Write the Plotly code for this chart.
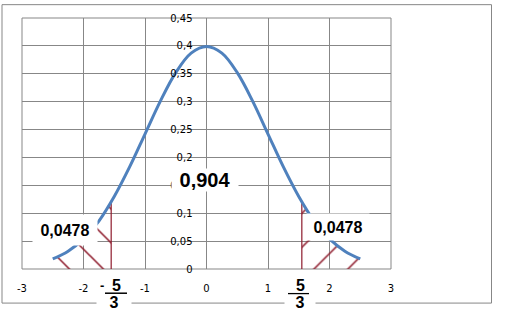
import plotly.graph_objects as go

# ---- data ----
x_vals = [-2.5, -2.25, -2.0, -1.75, -1.5, -1.25, -1.0, -0.75, -0.5, -0.25, 0.0,
          0.25, 0.5, 0.75, 1.0, 1.25, 1.5, 1.75, 2.0, 2.25, 2.5]
y_vals = [0.018, 0.032, 0.054, 0.086, 0.130, 0.183, 0.242, 0.301, 0.352, 0.387, 0.399,
          0.387, 0.352, 0.301, 0.242, 0.183, 0.130, 0.086, 0.054, 0.032, 0.018]

left_tail_x = [-2.5, -2.25, -2.0, -1.75, -1.55]
left_tail_y = [0.018, 0.032, 0.054, 0.086, 0.120]
right_tail_x = [1.55, 1.75, 2.0, 2.25, 2.5]
right_tail_y = [0.120, 0.086, 0.054, 0.032, 0.018]

x_ticks = [-3, -2, -1, 0, 1, 2, 3]
x_ticktext = ["-3", "-2", "-1", "0", "1", "2", "3"]
y_ticks = [0, 0.05, 0.1, 0.15, 0.2, 0.25, 0.3, 0.35, 0.4, 0.45]
y_ticktext = ["0", "0,05", "0,1", "0,15", "0,2", "0,25", "0,3", "0,35", "0,4", "0,45"]

center_label = "0,904"
tail_label = "0,0478"
crit_num = "5"
crit_den = "3"

# ---- layout geometry ----
W, H = 505, 318
ML, MR, MT, MB = 22, 114, 15, 49
PW, PH = W - ML - MR, H - MT - MB


def pxx(px):
    return (px - ML) / PW


def pxy(py):
    return (H - MB - py) / PH


GRID = "#878787"
RED = "#8e1b2c"
BLUE = "#4f81bd"

fig = go.Figure()

for tx, ty, shp in [(left_tail_x, left_tail_y, "\\"), (right_tail_x, right_tail_y, "/")]:
    fig.add_trace(go.Scatter(
        x=tx, y=ty, mode="lines", fill="tozeroy",
        line=dict(width=0, shape="spline"),
        fillcolor=RED,
        fillpattern=dict(shape=shp, fgcolor=RED, bgcolor="rgba(255,255,255,0)",
                         fgopacity=1, fillmode="replace",
                         size=24, solidity=0.065),
        hoverinfo="skip", showlegend=False))

for tx, ty in [(left_tail_x[-1], left_tail_y[-1]), (right_tail_x[0], right_tail_y[0])]:
    fig.add_trace(go.Scatter(x=[tx, tx], y=[0, ty], mode="lines",
                             line=dict(color=RED, width=1.2),
                             hoverinfo="skip", showlegend=False))

fig.add_trace(go.Scatter(x=x_vals, y=y_vals, mode="lines",
                         line=dict(color=BLUE, width=3, shape="spline"),
                         showlegend=False))

fig.update_layout(
    width=W, height=H,
    margin=dict(l=ML, r=MR, t=MT, b=MB, pad=0),
    paper_bgcolor="white", plot_bgcolor="white",
    showlegend=False,
    font=dict(family="DejaVu Sans", size=10, color="black"),
    xaxis=dict(range=[-3, 3], tickvals=x_ticks, ticktext=x_ticktext,
               showgrid=True, gridcolor=GRID, gridwidth=1, zeroline=False,
               showline=False, ticks="", ticklabelstandoff=12,
               tickfont=dict(family="DejaVu Sans", size=10, color="black")),
    yaxis=dict(range=[0, 0.45], tickvals=y_ticks, ticktext=y_ticktext,
               showgrid=True, gridcolor=GRID, gridwidth=1, zeroline=False,
               showline=False, ticks="", anchor="free", position=0.5,
               ticklabelstandoff=14,
               tickfont=dict(family="DejaVu Sans", size=10, color="black")),
)

shapes = [
    # plot frame
    dict(type="rect", xref="paper", yref="paper", x0=0, x1=1, y0=0, y1=1,
         line=dict(color=GRID, width=1), layer="below"),
    # outer chart border
    dict(type="rect", xref="paper", yref="paper",
         x0=pxx(2), x1=pxx(491.5), y0=pxy(303.5), y1=pxy(1.5),
         line=dict(color=GRID, width=1)),
    # fraction bars
    dict(type="line", xref="paper", yref="paper",
         x0=pxx(105), x1=pxx(127), y0=pxy(293.5), y1=pxy(293.5),
         line=dict(color="black", width=1.5)),
    dict(type="line", xref="paper", yref="paper",
         x0=pxx(288), x1=pxx(309), y0=pxy(294), y1=pxy(294),
         line=dict(color="black", width=1.5)),
]
fig.update_layout(shapes=shapes)

bold = dict(family="Liberation Sans", color="black")
C = dict(showarrow=False, xanchor="center", yanchor="middle")
ann = [
    dict(x=-0.02, y=0.159, xref="x", yref="y", text="<b>%s</b>" % center_label,
         bgcolor="white", width=64, height=20, borderpad=1,
         font=dict(size=20, **bold), **C),
    dict(x=-2.30, y=0.0705, xref="x", yref="y", text="<b>%s</b>" % tail_label,
         bgcolor="white", width=62, height=28, borderpad=1,
         font=dict(size=16, **bold), **C),
    dict(x=2.14, y=0.0762, xref="x", yref="y", text="<b>%s</b>" % tail_label,
         bgcolor="white", width=60, height=24, borderpad=1,
         font=dict(size=16, **bold), **C),
    # left fraction  -5/3
    dict(x=pxx(102), y=pxy(286), xref="paper", yref="paper", text="<b>-</b>",
         font=dict(size=13, **bold), **C),
    dict(x=pxx(116), y=pxy(286), xref="paper", yref="paper", text="<b>%s</b>" % crit_num,
         font=dict(size=16, **bold), **C),
    dict(x=pxx(114), y=pxy(302.5), xref="paper", yref="paper", text="<b>%s</b>" % crit_den,
         bgcolor="white", width=34, height=14, borderpad=0,
         font=dict(size=16, **bold), **C),
    # right fraction 5/3
    dict(x=pxx(300), y=pxy(286), xref="paper", yref="paper", text="<b>%s</b>" % crit_num,
         font=dict(size=16, **bold), **C),
    dict(x=pxx(300), y=pxy(302.5), xref="paper", yref="paper", text="<b>%s</b>" % crit_den,
         bgcolor="white", width=30, height=14, borderpad=0,
         font=dict(size=16, **bold), **C),
]
fig.update_layout(annotations=ann)

fig.write_html("out.html")
